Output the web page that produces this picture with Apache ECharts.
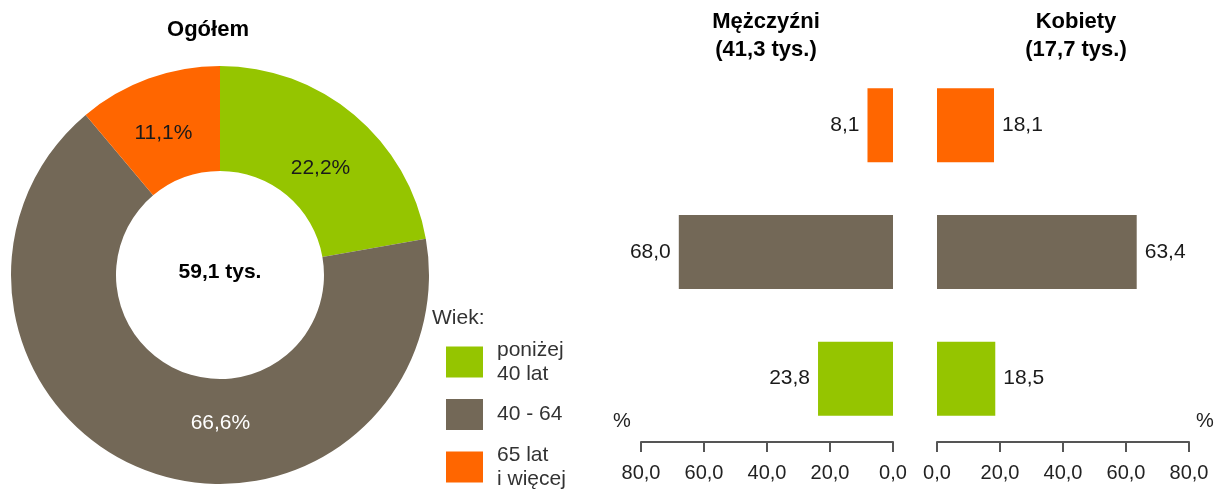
<!DOCTYPE html>
<html>
<head>
<meta charset="utf-8">
<script src="https://cdn.jsdelivr.net/npm/echarts@6/dist/echarts.min.js"></script>
<style>
  html, body { margin: 0; padding: 0; background: #fff; }
  #chart { width: 1215px; height: 489px; }
</style>
</head>
<body>
<div id="chart"></div>
<script>
// dane
let ageGroups = ['poniżej\n40 lat', '40 - 64', '65 lat\ni więcej']
let ageColors = ['#95c500', '#736857', '#ff6600']
let totalShare = [22.2, 66.6, 11.1]
let menShare = [23.8, 68.0, 8.1]
let womenShare = [18.5, 63.4, 18.1]
let axisTicks = [0, 20, 40, 60, 80]

let fmt = (v) => v.toFixed(1).replace('.', ',')
let font = 'Liberation Sans, Arial, sans-serif'

let myChart = echarts.init(document.getElementById('chart'))

// przesunięcia etykiet na wykresie kołowym
let pieLabelOffset = [[-2, 15], [55, -2], [-2, 8]]

let pieData = ageGroups.map((name, i) => ({
    name: name,
    value: totalShare[i],
    itemStyle: { color: ageColors[i] },
    label: {
        offset: pieLabelOffset[i],
        color: i === 1 ? '#fff' : '#1a1a1a'
    }
}))

let barData = (arr) => arr.map((v, i) => ({
    value: v,
    itemStyle: { color: ageColors[i] }
}))

let valueAxis = (gridIndex, inverse) => ({
    type: 'value',
    gridIndex: gridIndex,
    inverse: inverse,
    min: axisTicks[0],
    max: axisTicks[axisTicks.length - 1],
    interval: axisTicks[1] - axisTicks[0],
    position: 'bottom',
    axisLine: { show: true, lineStyle: { color: '#555', width: 2 } },
    axisTick: { show: true, length: 10, lineStyle: { color: '#555', width: 2 } },
    axisLabel: {
        margin: 21,
        fontSize: 20,
        fontFamily: font,
        color: '#222',
        formatter: (v) => fmt(v)
    },
    splitLine: { show: false }
})

let catAxis = (gridIndex) => ({
    type: 'category',
    gridIndex: gridIndex,
    data: ageGroups,
    show: false
})

let option = {
    animation: false,
    textStyle: { fontFamily: font },
    grid: [
        { left: 641, width: 252, top: 62, height: 380 },
        { left: 937, width: 252, top: 62, height: 380 }
    ],
    xAxis: [valueAxis(0, true), valueAxis(1, false)],
    yAxis: [catAxis(0), catAxis(1)],
    legend: {
        orient: 'vertical',
        left: 446,
        top: 338,
        height: 200,
        padding: 0,
        itemWidth: 37,
        itemHeight: 31,
        itemGap: 13,
        icon: 'rect',
        selectedMode: false,
        data: ageGroups,
        textStyle: {
            fontSize: 21,
            lineHeight: 24,
            color: '#333',
            fontFamily: font,
            padding: [0, 0, 0, 9]
        }
    },
    graphic: [
        { type: 'text', style: { text: 'Ogółem', x: 208, y: 30, textAlign: 'center', textVerticalAlign: 'middle', font: 'bold 22px ' + font, fill: '#000' } },
        { type: 'text', style: { text: '59,1 tys.', x: 220, y: 272, textAlign: 'center', textVerticalAlign: 'middle', font: 'bold 21px ' + font, fill: '#000' } },
        { type: 'text', style: { text: 'Wiek:', x: 432, y: 318, textAlign: 'left', textVerticalAlign: 'middle', font: '21px ' + font, fill: '#333' } },
        { type: 'text', style: { text: 'Mężczyźni\n(41,3 tys.)', x: 766, y: 36, textAlign: 'center', textVerticalAlign: 'middle', lineHeight: 28, font: 'bold 22px ' + font, fill: '#000' } },
        { type: 'text', style: { text: 'Kobiety\n(17,7 tys.)', x: 1076, y: 36, textAlign: 'center', textVerticalAlign: 'middle', lineHeight: 28, font: 'bold 22px ' + font, fill: '#000' } },
        { type: 'text', style: { text: '%', x: 622, y: 421, textAlign: 'center', textVerticalAlign: 'middle', font: '20px ' + font, fill: '#222' } },
        { type: 'text', style: { text: '%', x: 1205, y: 421, textAlign: 'center', textVerticalAlign: 'middle', font: '20px ' + font, fill: '#222' } }
    ],
    series: [
        {
            type: 'pie',
            center: [220, 275],
            radius: [104, 209],
            startAngle: 90,
            clockwise: true,
            label: {
                show: true,
                position: 'inside',
                fontSize: 21,
                fontFamily: font,
                formatter: (p) => fmt(p.value) + '%'
            },
            labelLine: { show: false },
            emphasis: { disabled: true },
            data: pieData
        },
        {
            type: 'bar',
            name: 'Mężczyźni',
            xAxisIndex: 0,
            yAxisIndex: 0,
            barWidth: 74,
            label: {
                show: true,
                position: 'left',
                distance: 8,
                fontSize: 21,
                fontFamily: font,
                color: '#1a1a1a',
                formatter: (p) => fmt(p.value)
            },
            data: barData(menShare)
        },
        {
            type: 'bar',
            name: 'Kobiety',
            xAxisIndex: 1,
            yAxisIndex: 1,
            barWidth: 74,
            label: {
                show: true,
                position: 'right',
                distance: 8,
                fontSize: 21,
                fontFamily: font,
                color: '#1a1a1a',
                formatter: (p) => fmt(p.value)
            },
            data: barData(womenShare)
        }
    ]
}

myChart.setOption(option)
</script>
</body>
</html>
